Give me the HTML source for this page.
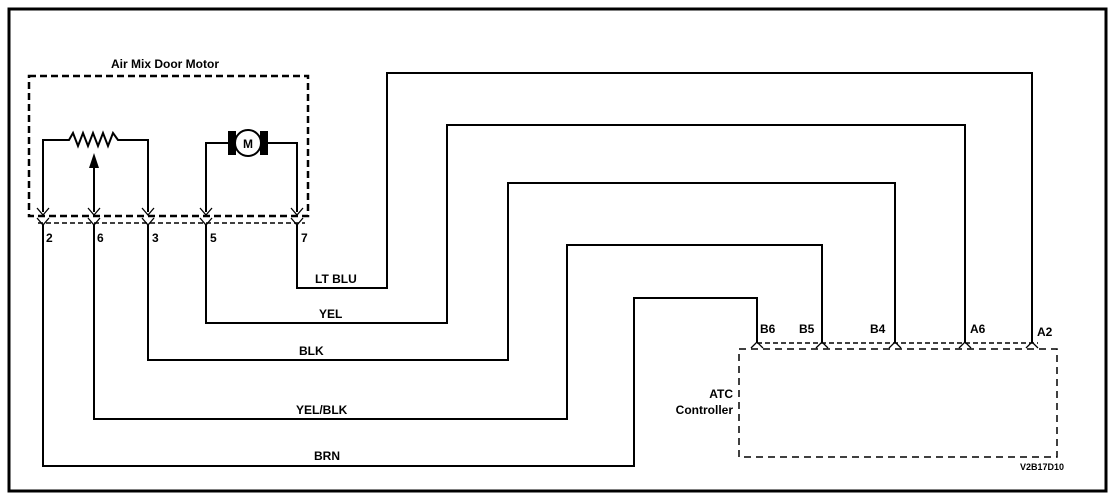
<!DOCTYPE html>
<html><head><meta charset="utf-8"><style>
html,body{margin:0;padding:0;background:#fff;}
svg{display:block;}
text{font-family:"Liberation Sans",Arial,sans-serif;font-weight:bold;fill:#000;}
</style></head><body>
<svg width="1120" height="504" viewBox="0 0 1120 504" xmlns="http://www.w3.org/2000/svg">
<rect x="9" y="9" width="1097" height="482" fill="none" stroke="#000" stroke-width="3"/>
<text x="165" y="68" font-size="12" text-anchor="middle" font-weight="normal">Air Mix Door Motor</text>
<rect x="29" y="76" width="279" height="140" fill="none" stroke="#000" stroke-width="2.5" stroke-dasharray="7,4"/>
<line x1="38" y1="223" x2="305" y2="223" stroke="#000" stroke-width="1.5" stroke-dasharray="5,3"/>
<g fill="none" stroke="#000" stroke-width="2">
<polyline points="43,212 43,140 69,140 73,133 78,146 83,133 88,146 93,133 98,146 103,133 108,146 113,133 118,140 148,140 148,212"/>
<line x1="94" y1="212" x2="94" y2="165"/>
<polyline points="206,212 206,143 228,143"/>
<polyline points="268,143 297,143 297,212"/>
<polyline points="297,225 297,288 387,288 387,73 1032,73 1032,343"/>
<polyline points="206,225 206,323 447,323 447,125 965,125 965,343"/>
<polyline points="148,225 148,360 508,360 508,183 895,183 895,343"/>
<polyline points="94,225 94,419 567,419 567,245 822,245 822,343"/>
<polyline points="43,225 43,466 634,466 634,298 757,298 757,343"/>
</g>
<polygon points="94,153 89,168 99,168" fill="#000"/>
<rect x="228" y="131" width="8" height="24" fill="#000"/>
<rect x="260" y="131" width="8" height="24" fill="#000"/>
<circle cx="248" cy="143" r="13" fill="#fff" stroke="#000" stroke-width="2"/>
<text x="248" y="148" font-size="12" text-anchor="middle">M</text>
<g fill="none" stroke="#000" stroke-width="1.3">
<path d="M37,208 L43,215 L49,208 M37,218 L43,225 L49,218"/>
<path d="M88,208 L94,215 L100,208 M88,218 L94,225 L100,218"/>
<path d="M142,208 L148,215 L154,208 M142,218 L148,225 L154,218"/>
<path d="M200,208 L206,215 L212,208 M200,218 L206,225 L212,218"/>
<path d="M291,208 L297,215 L303,208 M291,218 L297,225 L303,218"/>
<path d="M751,348 L757,342 L763,348 M816,348 L822,342 L828,348 M889,348 L895,342 L901,348 M959,348 L965,342 L971,348 M1026,348 L1032,342 L1038,348"/>
</g>
<g font-size="12">
<text x="46" y="242">2</text><text x="97" y="242" font-weight="normal">6</text><text x="152" y="242">3</text><text x="210" y="242">5</text><text x="301" y="242">7</text>
</g>
<g font-size="12">
<text x="315" y="283">LT BLU</text>
<text x="319" y="318">YEL</text>
<text x="299" y="355">BLK</text>
<text x="296" y="414" font-weight="normal">YEL/BLK</text>
<text x="314" y="460">BRN</text>
</g>
<line x1="757" y1="343" x2="1038" y2="343" stroke="#000" stroke-width="1.5" stroke-dasharray="5,3"/>
<rect x="739" y="349" width="318" height="108" fill="none" stroke="#000" stroke-width="1.5" stroke-dasharray="7,5"/>
<g font-size="12">
<text x="760" y="333">B6</text><text x="799" y="333">B5</text><text x="870" y="333">B4</text><text x="970" y="333">A6</text><text x="1037" y="336">A2</text>
</g>
<text x="733" y="398" font-size="12" text-anchor="end" font-weight="normal">ATC</text>
<text x="733" y="414" font-size="12" text-anchor="end" font-weight="normal">Controller</text>
<text x="1064" y="470" font-size="9" text-anchor="end" font-weight="normal">V2B17D10</text>
</svg>
</body></html>
